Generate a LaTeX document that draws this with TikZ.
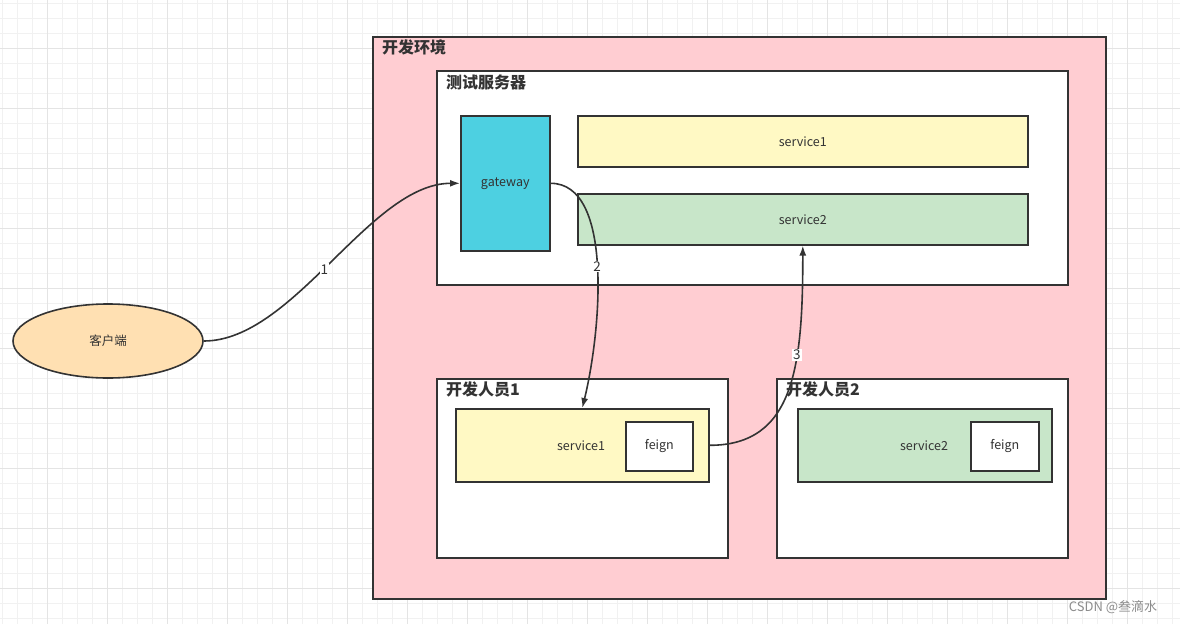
\documentclass[tikz,border=0pt]{standalone}
\usepackage{fontspec}
\setmainfont{Noto Sans CJK SC}
\usetikzlibrary{arrows.meta, positioning, shapes.geometric}
\definecolor{lineaGris}{HTML}{333333}
\definecolor{fondoRosa}{HTML}{FFCDD2}
\definecolor{colorCian}{HTML}{4DD0E1}
\definecolor{colorAmarillo}{HTML}{FFF9C4}
\definecolor{colorVerde}{HTML}{C8E6C9}
\definecolor{colorNaranja}{HTML}{FFE0B2}
\definecolor{gridMenor}{HTML}{F1F1F1}
\definecolor{gridMayor}{HTML}{E4E4E4}

\begin{document}
\begin{tikzpicture}[
        x=1pt, y=-1pt,
        caja/.style={draw=lineaGris, line width=1.6pt, inner sep=0pt, anchor=north west},
        srv/.style={caja, font=\fontsize{12.5}{14}\selectfont, text=lineaGris},
        ttl/.style={anchor=west, inner sep=0pt, font=\fontsize{16}{18}\selectfont\bfseries, text=lineaGris},
        rel/.style={-{Latex[length=10pt,width=7pt]}, lineaGris, line width=1.6pt},
        num/.style={fill=white, inner sep=1pt, font=\fontsize{13.5}{15}\selectfont, text=lineaGris}
    ]
        \useasboundingbox (0,0) rectangle (1180,624);
        \fill[white] (0,0) rectangle (1180,624);
        % fondo cuadriculado
        \foreach \i in {0,...,78} {
            \pgfmathsetmacro{\gx}{2.5+15*\i}
            \draw[gridMenor, line width=1pt] (\gx,0) -- (\gx,624);
        }
        \foreach \i in {0,...,41} {
            \pgfmathsetmacro{\gy}{3.3+15*\i}
            \draw[gridMenor, line width=1pt] (0,\gy) -- (1180,\gy);
        }
        \foreach \i in {0,...,19} {
            \pgfmathsetmacro{\gx}{47.5+60*\i}
            \draw[gridMayor, line width=1pt] (\gx,0) -- (\gx,624);
        }
        \foreach \i in {0,...,9} {
            \pgfmathsetmacro{\gy}{48.3+60*\i}
            \draw[gridMayor, line width=1pt] (0,\gy) -- (1180,\gy);
        }

        % contenedores
        \node[caja, fill=fondoRosa, minimum width=733pt, minimum height=562pt] (env) at (372,36) {};
        \node[ttl, right=10pt of env.north west, yshift=-11pt] (envT) {开发环境};
        \node[caja, fill=white, minimum width=631pt, minimum height=214pt] (test) at (436,70) {};
        \node[ttl, right=10pt of test.north west, yshift=-12pt] (testT) {测试服务器};
        \node[caja, fill=white, minimum width=291pt, minimum height=179pt] (dev1) at (436,378) {};
        \node[ttl, right=10pt of dev1.north west, yshift=-11pt] (dev1T) {开发人员1};
        \node[caja, fill=white, minimum width=291pt, minimum height=179pt] (dev2) at (776,378) {};
        \node[ttl, right=10pt of dev2.north west, yshift=-11pt] (dev2T) {开发人员2};

        % servicios
        \node[srv, fill=colorCian, minimum width=89pt, minimum height=135pt] (gw) at (460,115) {gateway};
        \node[srv, fill=colorAmarillo, minimum width=450pt, minimum height=51pt] (ts1) at (577,115) {service1};
        \node[srv, fill=colorVerde, minimum width=450pt, minimum height=51pt] (ts2) at (577,193) {service2};
        \node[srv, fill=colorAmarillo, minimum width=253pt, minimum height=73pt] (d1s) at (455,408) {};
        \node[srv, fill=white, minimum width=67pt, minimum height=49pt] (f1) at (625,421) {feign};
        \node[srv, anchor=center, draw=none] (d1sT) at (581,446) {service1};
        \node[srv, fill=colorVerde, minimum width=254pt, minimum height=73pt] (d2s) at (797,408) {};
        \node[srv, fill=white, minimum width=68pt, minimum height=49pt] (f2) at (970,421) {feign};
        \node[srv, anchor=center, draw=none] (d2sT) at (924,446) {service2};

        % cliente
        \node[ellipse, draw=lineaGris, line width=1.6pt, fill=colorNaranja, minimum width=190pt,
            minimum height=74pt, inner sep=0pt, font=\fontsize{12.5}{14}\selectfont, text=lineaGris] (cli) at (108,341) {客户端};

        % llamadas
        \draw[rel] (cli.east) .. controls +(90,0) and +(-90,0) .. node[num, pos=0.47] {1} (gw.west);
        \draw[rel] (gw.east) .. controls +(63,0) and +(19,-78) .. node[num, pos=0.5] {2} (d1s.north);
        \draw[rel] (d1s.east) .. controls +(85,0) and +(0,120) .. node[num, pos=0.65] {3} (ts2.south);

        \node[anchor=center, inner sep=0pt, font=\fontsize{13}{15}\selectfont, text=black!45] (marca) at (1113,607) {CSDN @叁滴水};
    \end{tikzpicture}
\end{document}
